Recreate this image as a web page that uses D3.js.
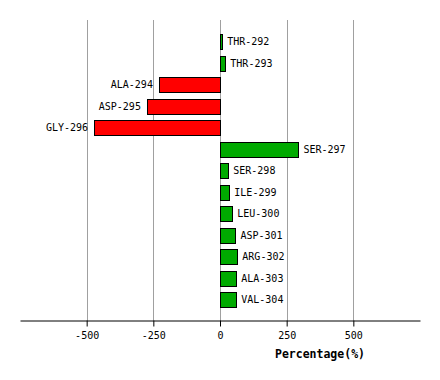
<!DOCTYPE html>
<html>
<head>
<meta charset="utf-8">
<script src="https://cdn.jsdelivr.net/npm/d3@7"></script>
<style>
  body { margin: 0; background: #fff; }
  text { font-family: "DejaVu Sans Mono", monospace; }
</style>
</head>
<body>
<script>
// residues and their percentage change
const residues = ['THR-292', 'THR-293', 'ALA-294', 'ASP-295', 'GLY-296', 'SER-297',
  'SER-298', 'ILE-299', 'LEU-300', 'ASP-301', 'ARG-302', 'ALA-303', 'VAL-304'];
const percentages = [8, 20, -229, -274, -472, 294, 31, 35, 46, 58, 65, 61, 61];
const tickValues = [-500, -250, 0, 250, 500];

const width = 440;
const height = 380;

const svg = d3.select('body').append('svg')
    .attr('width', width)
    .attr('height', height);

const x = d3.scaleLinear().domain([-750, 750]).range([20, 420]);
const y = d3.scaleBand().domain(residues).range([31, 310.5]).paddingInner(0.3).paddingOuter(0.15);

const axisY = 320.5;

// grid lines
svg.append('g')
  .selectAll('line')
  .data(tickValues)
  .enter().append('line')
    .attr('x1', d => Math.round(x(d)) + 0.5)
    .attr('x2', d => Math.round(x(d)) + 0.5)
    .attr('y1', 20)
    .attr('y2', axisY)
    .attr('stroke', '#a0a0a0')
    .attr('stroke-width', 1);

// bars
svg.append('g')
  .selectAll('rect')
  .data(residues)
  .enter().append('rect')
    .attr('x', (d, i) => Math.round(x(Math.min(0, percentages[i]))) + 0.5)
    .attr('y', d => Math.round(y(d)) + 0.5)
    .attr('width', (d, i) => Math.max(1, Math.round(Math.abs(x(percentages[i]) - x(0)))))
    .attr('height', Math.round(y.bandwidth()))
    .attr('fill', (d, i) => percentages[i] < 0 ? '#ff0000' : '#00aa00')
    .attr('stroke', '#000')
    .attr('stroke-width', 1);

// bar labels
svg.append('g')
  .selectAll('text')
  .data(residues)
  .enter().append('text')
    .attr('x', (d, i) => percentages[i] < 0 ? x(percentages[i]) - 6 : x(percentages[i]) + 5)
    .attr('y', d => y(d) + y.bandwidth() / 2)
    .attr('dy', '0.35em')
    .attr('text-anchor', (d, i) => percentages[i] < 0 ? 'end' : 'start')
    .attr('font-size', '10px')
    .attr('fill', '#000')
    .text(d => d);

// x axis
const xAxis = d3.axisBottom(x)
  .tickValues(tickValues)
  .tickSize(6)
  .tickPadding(5)
  .tickFormat(d => String(d));

const axisG = svg.append('g')
    .attr('transform', `translate(0,${axisY})`)
    .call(xAxis);

axisG.select('.domain').attr('d', 'M20.5,0.5H420.5');
axisG.selectAll('.tick text')
  .attr('font-size', '10px')
  .attr('font-family', '"DejaVu Sans Mono", monospace');

svg.append('text')
  .attr('x', 320)
  .attr('y', 358)
  .attr('text-anchor', 'middle')
  .attr('font-size', '11.5px')
  .attr('font-weight', 'bold')
  .text('Percentage(%)');
</script>
</body>
</html>
